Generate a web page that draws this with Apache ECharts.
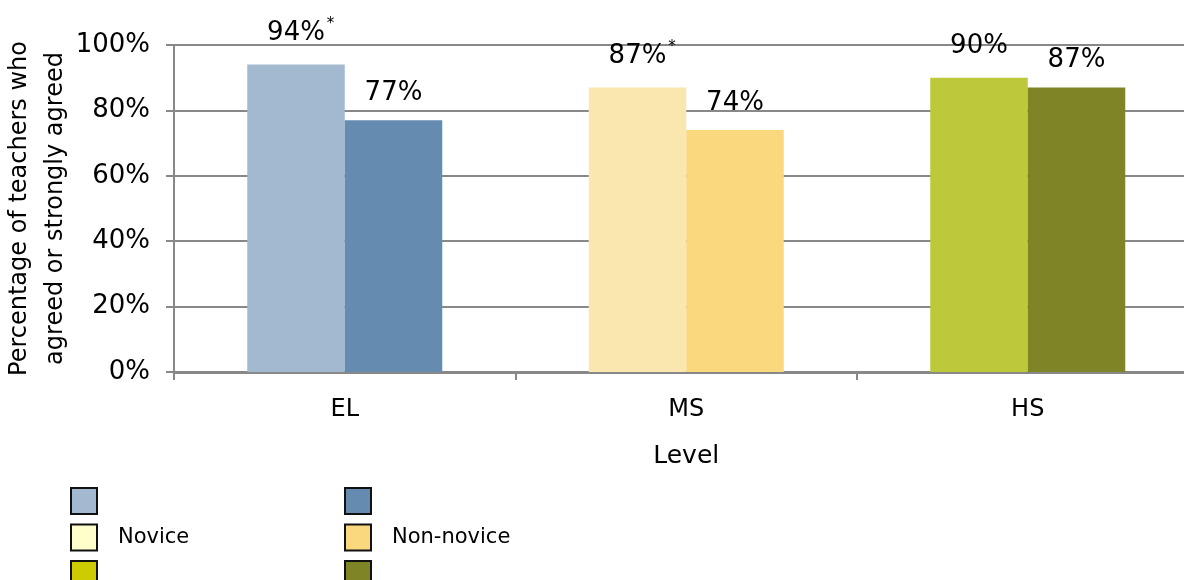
<!DOCTYPE html>
<html>
<head>
<meta charset="utf-8">
<script src="https://cdn.jsdelivr.net/npm/echarts@6/dist/echarts.min.js"></script>
<style>html,body{margin:0;padding:0;background:#fff}#c{width:1184px;height:580px}</style>
</head>
<body>
<div id="c"></div>
<script>
var categories = ['EL', 'MS', 'HS'];
var noviceValues = [94, 87, 90];
var nonNoviceValues = [77, 74, 87];
var noviceSignificant = [true, true, false];
var yTicks = [0, 20, 40, 60, 80, 100];
var noviceNames = ['EL Novice', 'MS Novice', 'HS Novice'];
var nonNoviceNames = ['EL Non-novice', 'MS Non-novice', 'HS Non-novice'];
var noviceColors = ['#A3B9CF', '#FAE7B0', '#BDC93A'];
var nonNoviceColors = ['#658BB0', '#FAD97E', '#7F8427'];
var noviceLegendColors = ['#A3B9CF', '#FFFFCC', '#CCCC00'];
var nonNoviceLegendColors = ['#658BB0', '#FAD97E', '#7F8427'];

var FONT = 'DejaVu Sans';
var series = [];
function oneAt(i, v) {
  return categories.map(function (_, j) { return j === i ? v : '-'; });
}
categories.forEach(function (c, i) {
  series.push({
    name: noviceNames[i], type: 'bar', stack: 'nov', barWidth: 97.5, barGap: '0%',
    data: oneAt(i, noviceValues[i]),
    itemStyle: { color: noviceColors[i] },
    label: {
      show: true, position: 'top', distance: 14,
      formatter: noviceSignificant[i] ? '{p|}{a|{c}%}{s|*}' : '{a|{c}%}',
      rich: {
        a: { fontFamily: FONT, fontSize: 26, color: '#000', lineHeight: 34 },
        s: { fontFamily: FONT, fontSize: 15, color: '#000', verticalAlign: 'top', lineHeight: 10, width: 11 },
        p: { width: 11 }
      }
    }
  });
});
categories.forEach(function (c, i) {
  series.push({
    name: nonNoviceNames[i], type: 'bar', stack: 'non', barWidth: 97.5, barGap: '0%',
    data: oneAt(i, nonNoviceValues[i]),
    itemStyle: { color: nonNoviceColors[i] },
    label: {
      show: true, position: 'top', distance: 14, formatter: '{c}%',
      fontFamily: FONT, fontSize: 26, color: '#000'
    }
  });
});

function legendData(names, colors) {
  return names.map(function (n, i) {
    return { name: n, itemStyle: { color: colors[i], borderColor: '#111', borderWidth: 2 } };
  });
}
function legendFmt(name) {
  if (name === 'MS Novice') return 'Novice';
  if (name === 'MS Non-novice') return 'Non-novice';
  return '';
}

var chart = echarts.init(document.getElementById('c'), null, { renderer: 'canvas' });
chart.setOption({
  animation: false,
  textStyle: { fontFamily: FONT },
  grid: { left: 174, right: -14.5, top: 45, bottom: 208, containLabel: false, outerBoundsMode: 'none' },
  legend: [
    { orient: 'vertical', left: 70, top: 487, height: 140, padding: 0, itemWidth: 26, itemHeight: 26, itemGap: 8.5, icon: 'rect',
      selectedMode: false, data: legendData(noviceNames, noviceLegendColors), formatter: legendFmt,
      textStyle: { fontFamily: FONT, fontSize: 21, lineHeight: 26, color: '#000', padding: [0, 0, 0, 16] } },
    { orient: 'vertical', left: 344, top: 487, height: 140, padding: 0, itemWidth: 26, itemHeight: 26, itemGap: 8.5, icon: 'rect',
      selectedMode: false, data: legendData(nonNoviceNames, nonNoviceLegendColors), formatter: legendFmt,
      textStyle: { fontFamily: FONT, fontSize: 21, lineHeight: 26, color: '#000', padding: [0, 0, 0, 16] } }
  ],
  xAxis: {
    type: 'category', data: categories,
    name: 'Level', nameLocation: 'middle', nameGap: 72, nameMoveOverlap: false,
    nameTextStyle: { fontFamily: FONT, fontSize: 25, color: '#000' },
    axisLine: { lineStyle: { color: '#888', width: 3 } },
    axisTick: { show: true, length: 8, lineStyle: { color: '#888', width: 2 } },
    axisLabel: { fontFamily: FONT, fontSize: 24, color: '#000', margin: 26 }
  },
  yAxis: {
    type: 'value', min: 0, max: 100, interval: 20,
    name: 'Percentage of teachers who\nagreed or strongly agreed',
    nameLocation: 'middle', nameGap: 100, nameMoveOverlap: false,
    nameTextStyle: { fontFamily: FONT, fontSize: 24, color: '#000', lineHeight: 36 },
    axisLine: { show: true, lineStyle: { color: '#888', width: 2 } },
    axisTick: { show: true, length: 8, lineStyle: { color: '#888', width: 2 } },
    splitLine: { lineStyle: { color: '#888', width: 2 } },
    axisLabel: { fontFamily: FONT, fontSize: 26, color: '#000', margin: 24,
      formatter: function (v) { return yTicks.indexOf(v) >= 0 ? v + '%' : ''; } }
  },
  series: series
});
</script>
</body>
</html>
